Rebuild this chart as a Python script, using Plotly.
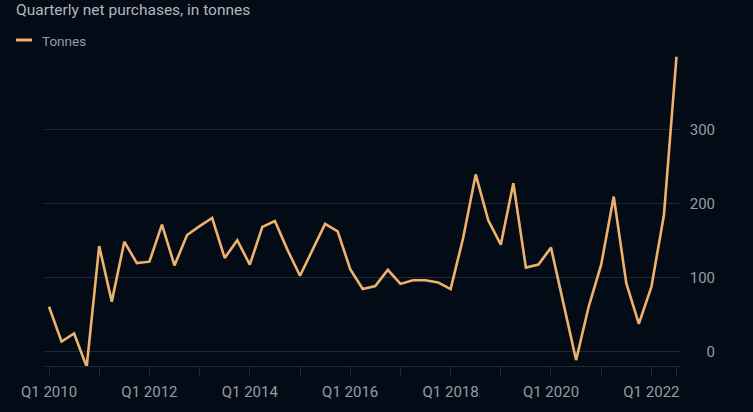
import plotly.graph_objects as go

# ---- data ----
years = [2010, 2011, 2012, 2013, 2014, 2015, 2016, 2017, 2018, 2019, 2020, 2021, 2022]
quarter_names = ["Q1", "Q2", "Q3", "Q4"]
tonnes = [
    61, 14, 25, -20,      # 2010
    143, 68, 149, 120,    # 2011
    122, 172, 117, 158,   # 2012
    170, 181, 127, 151,   # 2013
    118, 169, 177, 138,   # 2014
    103, 139, 173, 163,   # 2015
    112, 85, 89, 111,     # 2016
    92, 97, 97, 94,       # 2017
    85, 154, 240, 178,    # 2018
    145, 228, 114, 118,   # 2019
    141, 65, -11, 61,     # 2020
    118, 210, 93, 38,     # 2021
    88, 185, 399,         # 2022
]
quarters = [f"{q} {y}" for y in years for q in quarter_names][: len(tonnes)]

y_tickvals = [0, 100, 200, 300]
x_tickvals = [quarters[i] for i in range(0, len(quarters), 4)] + [quarters[-1]]
x_ticktext = [(q if (q.startswith("Q1") and int(q[-4:]) % 2 == 0) else "") for q in x_tickvals[:-1]] + [""]

title_text = "Quarterly net purchases, in tonnes"
series_name = "Tonnes"

# ---- styling ----
BG = "rgb(3,11,22)"
GRID = "rgb(31,41,54)"
LINE = "rgb(238,178,108)"
TICKFONT = "rgb(150,156,165)"

W, H = 753, 412
ML, MR, MT, MB = 44, 38, 56, 46
plot_w = W - ML - MR

fig = go.Figure()
fig.add_trace(go.Scatter(
    x=quarters, y=tonnes, mode="lines", name=series_name,
    line=dict(color=LINE, width=2.6), showlegend=False,
    hovertemplate="%{x}: %{y}<extra></extra>",
))

fig.update_layout(
    width=W, height=H,
    margin=dict(l=ML, r=MR, t=MT, b=MB),
    paper_bgcolor=BG, plot_bgcolor=BG,
    font=dict(family="Roboto, Open Sans, sans-serif", color=TICKFONT),
    title=dict(
        text=title_text, x=16 / W, xanchor="left", xref="container",
        y=1 - 10 / H, yanchor="middle", yref="container",
        font=dict(size=15.5, color="rgb(178,183,190)"),
    ),
    xaxis=dict(
        type="category",
        domain=[0, 636 / plot_w],
        range=[-0.4, 50.28],
        tickmode="array", tickvals=x_tickvals, ticktext=x_ticktext,
        ticks="outside", ticklen=10, tickcolor=GRID, tickwidth=1,
        showline=True, linecolor=GRID, linewidth=1,
        showgrid=False, zeroline=False,
        tickfont=dict(size=15, color=TICKFONT),
        ticklabelstandoff=2,
        fixedrange=True,
    ),
    yaxis=dict(
        range=[-19, 400],
        side="left", anchor="free", position=1.0,
        tickmode="array", tickvals=y_tickvals,
        ticks="", showline=False,
        showgrid=True, gridcolor=GRID, gridwidth=1,
        zeroline=False,
        tickfont=dict(size=15, color=TICKFONT),
        fixedrange=True,
    ),
)

# legend drawn as a key line + label
fig.add_shape(type="line", xref="paper", yref="paper",
              x0=(16 - ML) / plot_w, x1=(32 - ML) / plot_w,
              y0=1 + (MT - 40) / (H - MT - MB), y1=1 + (MT - 40) / (H - MT - MB),
              line=dict(color=LINE, width=3))
fig.add_annotation(text=series_name, xref="paper", yref="paper",
                   x=(40 - ML) / plot_w, y=1 + (MT - 41) / (H - MT - MB),
                   xanchor="left", yanchor="middle", showarrow=False,
                   font=dict(size=13.5, color="rgb(150,156,165)"))

fig.write_html(
    "out.html",
    config={"displayModeBar": False},
    post_script="document.body.style.margin='0';document.body.style.background='rgb(3,11,22)';document.body.style.overflow='hidden';",
)
